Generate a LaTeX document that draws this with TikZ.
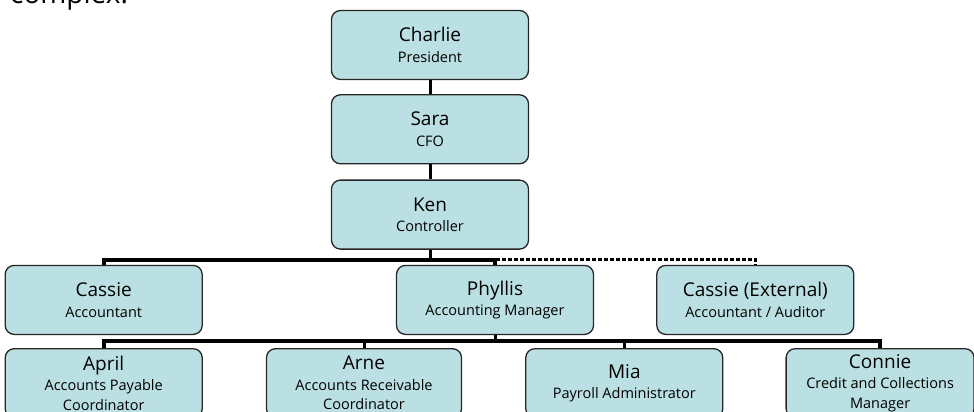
\documentclass[tikz,border=0pt]{standalone}
\usepackage{fontspec}
\setmainfont{Open Sans}
\usepackage{tikz}
\usetikzlibrary{positioning}
\usepackage{xcolor}
\definecolor{boxfill}{HTML}{BBE0E3}

\newcommand{\orgname}[1]{{\fontsize{19}{23}\selectfont #1}\\[1pt]}

\begin{document}
\begin{tikzpicture}[
		x=1pt, y=-1pt,
		person/.style={
			draw=black!85,
			line width=1.3pt,
			rounded corners=9pt,
			fill=boxfill,
			align=center,
			font=\fontsize{14.5}{19.5}\selectfont,
			minimum width=197pt,
			minimum height=69pt,
			inner sep=1pt
		},
		link/.style={line width=3pt},
		bus/.style={line width=4pt},
		dotline/.style={line width=3pt, dash pattern=on 4pt off 2pt}
		]
		
		\useasboundingbox (0,0) rectangle (974,412);
		
		% --- text above, cut off by the page ---
		\node[anchor=base west, inner sep=0pt, font=\fontsize{28}{30}\selectfont] (caption) at (10,4) {complex.};
		
		% --- top chain ---
		\node[person] (charlie) at (430,45) {
			\orgname{Charlie}
			President
		};
		
		\node[person, below=14pt of charlie] (sara) {
			\orgname{Sara}
			CFO
		};
		
		\node[person, below=15pt of sara] (ken) {
			\orgname{Ken}
			Controller
		};
		
		% --- second row ---
		\node[person, below=15pt of ken, xshift=65pt] (phyllis) {
			\orgname{Phyllis}
			Accounting Manager
		};
		
		\node[person, left=193pt of phyllis] (cassie) {
			\orgname{Cassie}
			Accountant
		};
		
		\node[person, right=62pt of phyllis] (external) {
			\orgname{Cassie (External)}
			Accountant / Auditor
		};
		
		% --- third row ---
		\node[person, below=13pt of cassie] (april) {
			\orgname{April}
			Accounts Payable\\
			Coordinator
		};
		
		\node[person, minimum width=195pt, right=63pt of april] (arne) {
			\orgname{Arne}
			Accounts Receivable\\
			Coordinator
		};
		
		\node[person, right=63pt of arne] (mia) {
			\orgname{Mia}
			Payroll Administrator
		};
		
		\node[person, minimum width=188pt, right=62pt of mia] (connie) {
			\orgname{Connie}
			Credit and Collections\\
			Manager
		};
		
		% --- connectors ---
		\draw[link] (charlie) -- (sara);
		\draw[link] (sara) -- (ken);
		
		\draw[link] (ken.south) -- ++(0,-10pt) coordinate (split1);
		\draw[bus] (cassie.north) |- (split1) -| (phyllis.north);
		\draw[dotline] (split1) -| (external.north);
		
		\draw[link] (phyllis.south) -- ++(0,-6pt) coordinate (split2);
		\draw[bus] (april.north) |- (split2) -| (connie.north);
		\draw[link] (arne.north) -- (arne.north |- split2);
		\draw[link] (mia.north) -- (mia.north |- split2);
		
	\end{tikzpicture}
\end{document}
